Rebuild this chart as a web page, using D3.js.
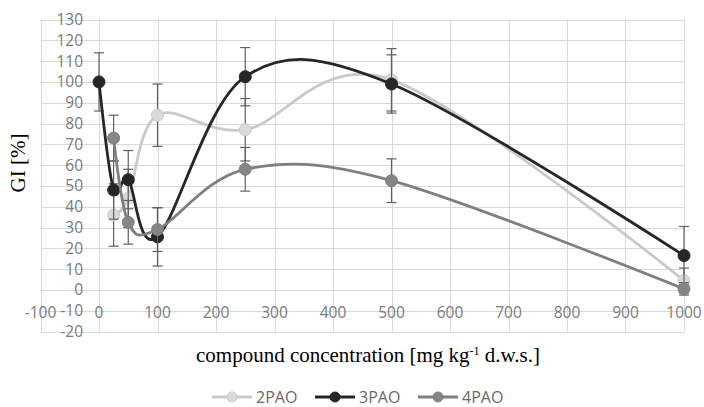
<!DOCTYPE html>
<html><head><meta charset="utf-8">
<script src="https://cdn.jsdelivr.net/npm/d3@7"></script>
<style>body{margin:0;background:#fff}svg{display:block}</style>
</head><body>
<svg id="c" width="704" height="407"></svg>
<script>
const xTicks = [-100,0,100,200,300,400,500,600,700,800,900,1000];
const yTicks = [-20,-10,0,10,20,30,40,50,60,70,80,90,100,110,120,130];
const seriesNames = ["2PAO","3PAO","4PAO"];
const conc2 = [25,50,100,250,500,1000];
const gi2   = [36,44,84,77,101,4.5];
const err2  = [15,14,15,15,15,6];
const conc3 = [0,25,50,100,250,500,1000];
const gi3   = [100,48,53,25.5,102.5,99,16.5];
const err3  = [14,14,14,14,14,14,14];
const conc4 = [25,50,100,250,500,1000];
const gi4   = [73,32.5,29,58,52.5,0.5];
const err4  = [11,10.5,10.5,10.5,10.5,3];

const lineColors = ["#c9c9c9","#262626","#7f7f7f"];
const markColors = ["#dadada","#262626","#858585"];
const series = [
  {name:seriesNames[0], x:conc2, y:gi2, e:err2},
  {name:seriesNames[1], x:conc3, y:gi3, e:err3},
  {name:seriesNames[2], x:conc4, y:gi4, e:err4}
];

const svg = d3.select("#c");
const x = d3.scaleLinear().domain([-100,1000]).range([40.5,684]);
const y = d3.scaleLinear().domain([-20,130]).range([331.5,19.5]);
const tickFont = "'Open Sans', sans-serif";

// gridlines
svg.append("g").selectAll("line.v").data(xTicks).join("line")
  .attr("x1",d=>Math.round(x(d))+0.5).attr("x2",d=>Math.round(x(d))+0.5)
  .attr("y1",y(130)).attr("y2",y(-20)).attr("stroke","#d9d9d9").attr("stroke-width",1);
svg.append("g").selectAll("line.h").data(yTicks).join("line")
  .attr("y1",d=>Math.round(y(d))+0.5).attr("y2",d=>Math.round(y(d))+0.5)
  .attr("x1",x(-100)).attr("x2",x(1000)).attr("stroke","#d9d9d9").attr("stroke-width",1);

// y tick labels
svg.append("g").selectAll("text").data(yTicks).join("text")
  .attr("x",83).attr("y",d=>y(d)).attr("dy","0.36em").attr("text-anchor","end")
  .attr("font-family",tickFont).attr("font-size",15.5).attr("fill","#7a7a7a").text(d=>d);
// x tick labels
svg.append("g").selectAll("text").data(xTicks).join("text")
  .attr("x",d=>x(d)).attr("y",318).attr("text-anchor","middle")
  .attr("font-family",tickFont).attr("font-size",15.5).attr("fill","#7a7a7a").text(d=>d);

// series
const line = d3.line().curve(d3.curveCardinal.tension(0)).x(d=>x(d[0])).y(d=>y(d[1]));
series.forEach((s,i)=>{
  const pts = s.x.map((v,j)=>[v,s.y[j],s.e[j]]);
  const g = svg.append("g");
  const eg = g.append("g").attr("stroke","#606060").attr("stroke-width",1.2);
  pts.forEach(p=>{
    eg.append("line").attr("x1",x(p[0])).attr("x2",x(p[0])).attr("y1",y(p[1]+p[2])).attr("y2",y(p[1]-p[2]));
    [p[1]+p[2],p[1]-p[2]].forEach(v=>{
      eg.append("line").attr("x1",x(p[0])-5).attr("x2",x(p[0])+5).attr("y1",y(v)).attr("y2",y(v));
    });
  });
  g.append("path").attr("d",line(pts)).attr("fill","none").attr("stroke",lineColors[i]).attr("stroke-width",2.8);
  g.selectAll("circle").data(pts).join("circle")
    .attr("cx",d=>x(d[0])).attr("cy",d=>y(d[1])).attr("r",6)
    .attr("fill",markColors[i]).attr("stroke",lineColors[i]).attr("stroke-width",1);
});

// axis titles
svg.append("text").attr("transform","translate(25,163) rotate(-90)").attr("text-anchor","middle")
  .attr("font-family","'Liberation Serif', serif").attr("font-size",21).attr("fill","#000").text("GI [%]");
const xt = svg.append("text").attr("x",368).attr("y",362).attr("text-anchor","middle")
  .attr("font-family","'Liberation Serif', serif").attr("font-size",21).attr("fill","#000");
xt.append("tspan").text("compound concentration [mg kg");
xt.append("tspan").attr("font-size",12).attr("dy",-7).text("-1");
xt.append("tspan").attr("dy",7).text(" d.w.s.]");

// legend
const lx = [212,315,418];
const lg = svg.append("g");
seriesNames.forEach((n,i)=>{
  lg.append("line").attr("x1",lx[i]).attr("x2",lx[i]+40).attr("y1",397).attr("y2",397)
    .attr("stroke",lineColors[i]).attr("stroke-width",2.8);
  lg.append("circle").attr("cx",lx[i]+20).attr("cy",397).attr("r",5)
    .attr("fill",markColors[i]).attr("stroke",lineColors[i]);
  lg.append("text").attr("x",lx[i]+44).attr("y",397).attr("dy","0.36em")
    .attr("font-family",tickFont).attr("font-size",16).attr("fill","#6a6a6a").text(n);
});
</script>
</body></html>
